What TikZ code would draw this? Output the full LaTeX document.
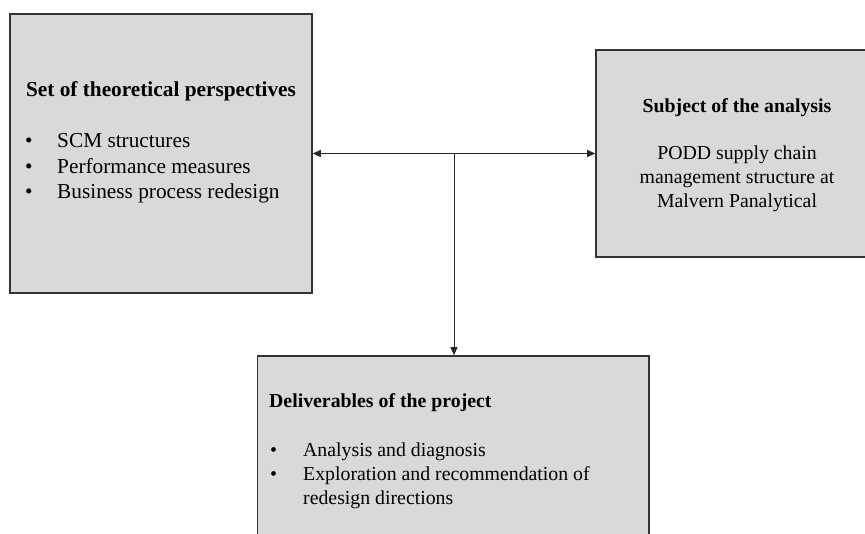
\documentclass[tikz,border=0pt]{standalone}
\usepackage{fontspec}
\setmainfont{Liberation Serif}
\usetikzlibrary{arrows.meta}
\begin{document}
\begin{tikzpicture}[x=1pt,y=-1pt,
  panel/.style={draw=black!80, line width=1.6pt, fill=black!15, inner sep=0pt},
  txt/.style={anchor=base west, inner sep=0pt, font=\fontsize{19.8}{24}\selectfont},
  txtc/.style={anchor=base, inner sep=0pt, font=\fontsize{19.8}{24}\selectfont},
  ttl/.style={anchor=base, inner sep=0pt, font=\fontsize{19.8}{24}\selectfont\bfseries},
  bigtxt/.style={anchor=base west, inner sep=0pt, font=\fontsize{21.3}{25.5}\selectfont},
  link/.style={draw=black!85, line width=0.9pt, -{Triangle[length=8pt,width=7pt]}},
  biglink/.style={draw=black!85, line width=0.9pt, {Triangle[length=8pt,width=7pt]}-{Triangle[length=8pt,width=7pt]}}
]
\useasboundingbox (0,0) rectangle (865,534);
\clip (0,0) rectangle (865,534);

% the three panels
\node[panel, minimum width=302pt, minimum height=279pt] (theory) at (161,153.5) {};
\node[panel, minimum width=280pt, minimum height=207pt] (subject) at (736,153.5) {};
\node[panel, minimum width=391.5pt, minimum height=200pt] (deliver) at (453.25,456) {};

% theoretical perspectives
\node[ttl, font=\fontsize{21.3}{25.5}\selectfont\bfseries] (t0) at (161,97) {Set of theoretical perspectives};
\node[bigtxt] (tb1) at (25,148) {•};
\node[bigtxt] (t1) at (57,148) {SCM structures};
\node[bigtxt] (tb2) at (25,173.5) {•};
\node[bigtxt] (t2) at (57,173.5) {Performance measures};
\node[bigtxt] (tb3) at (25,199) {•};
\node[bigtxt] (t3) at (57,199) {Business process redesign};

% subject of the analysis
\node[ttl] (s0) at (737,112.5) {Subject of the analysis};
\node[txtc] (s1) at (737,160) {PODD supply chain};
\node[txtc] (s2) at (737,184) {management structure at};
\node[txtc] (s3) at (737,208) {Malvern Panalytical};

% deliverables
\node[ttl, anchor=base west] (d0) at (269,408) {Deliverables of the project};
\node[txt] (db1) at (270,456.5) {•};
\node[txt] (d1) at (303,456.5) {Analysis and diagnosis};
\node[txt] (db2) at (270,480.5) {•};
\node[txt] (d2) at (303,480.5) {Exploration and recommendation of};
\node[txt] (d3) at (303,504) {redesign directions};

% connectors
\coordinate (fork) at (454,153.5);
\draw[biglink] (theory.east) -- (subject.west);
\draw[link] (fork) -- (fork |- deliver.north);
\end{tikzpicture}
\end{document}
